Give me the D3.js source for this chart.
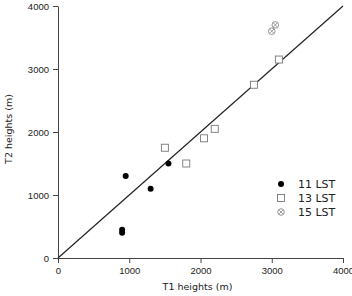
<!DOCTYPE html>
<html>
<head>
<meta charset="utf-8">
<script src="https://cdn.jsdelivr.net/npm/d3@7"></script>
<style>
  body { margin: 0; background: #fff; }
  svg { display: block; font-family: "DejaVu Sans", Verdana, sans-serif; }
  .axis path, .axis line { stroke: #444; }
  .axis text { fill: #222; font-size: 9.5px; }
</style>
</head>
<body>
<div id="chart"></div>
<script>
const margin = { top: 6, right: 9, bottom: 38, left: 58 }
const W = 352, H = 296
const w = W - margin.left - margin.right
const h = H - margin.top - margin.bottom

// tick values
const ticks = [0, 1000, 2000, 3000, 4000]

// 11 LST (filled circles)
const lst11_t1 = [950, 1300, 1550, 900, 900]
const lst11_t2 = [1300, 1100, 1500, 450, 400]
// 13 LST (open squares)
const lst13_t1 = [1500, 1800, 2050, 2200, 2750, 3100]
const lst13_t2 = [1750, 1500, 1900, 2050, 2750, 3150]
// 15 LST (circled x)
const lst15_t1 = [3000, 3050]
const lst15_t2 = [3600, 3700]

const legendLabels = ["11 LST", "13 LST", "15 LST"]

const zip = (a, b) => a.map((v, i) => [v, b[i]])

const svg = d3.select("#chart")
  .append("svg")
  .attr("width", W)
  .attr("height", H)
  .append("g")
  .attr("transform", "translate(" + margin.left + "," + margin.top + ")")

const x = d3.scaleLinear().domain([0, 4000]).range([0, w])
const y = d3.scaleLinear().domain([0, 4000]).range([h, 0])

// axes
svg.append("g")
  .attr("class", "axis")
  .attr("transform", "translate(0," + h + ")")
  .call(d3.axisBottom(x).tickValues(ticks).tickFormat(d3.format("d"))
    .tickSize(5).tickSizeOuter(0).tickPadding(4))

svg.append("g")
  .attr("class", "axis")
  .call(d3.axisLeft(y).tickValues(ticks).tickFormat(d3.format("d"))
    .tickSize(5).tickSizeOuter(0).tickPadding(4))

// axis labels
svg.append("text")
  .attr("x", x(2000) - 3)
  .attr("y", h + 32)
  .attr("text-anchor", "middle")
  .attr("font-size", 9.5)
  .attr("fill", "#222")
  .text("T1 heights (m)")

svg.append("text")
  .attr("transform", "rotate(-90)")
  .attr("x", -y(2000) + 3)
  .attr("y", -46)
  .attr("text-anchor", "middle")
  .attr("font-size", 9.5)
  .attr("fill", "#222")
  .text("T2 heights (m)")

// 1:1 line
svg.append("line")
  .attr("x1", x(0)).attr("y1", y(0))
  .attr("x2", x(4000)).attr("y2", y(4000))
  .attr("stroke", "#222")
  .attr("stroke-width", 1.2)

// markers
const drawDot = (g, cx, cy) => g.append("circle")
  .attr("cx", cx).attr("cy", cy).attr("r", 3).attr("fill", "#000")

const drawSquare = (g, cx, cy) => g.append("rect")
  .attr("x", cx - 3.5).attr("y", cy - 3.5)
  .attr("width", 7).attr("height", 7)
  .attr("fill", "#fff").attr("stroke", "#777").attr("stroke-width", 0.9)

const drawCross = (g, cx, cy) => {
  g.append("circle")
    .attr("cx", cx).attr("cy", cy).attr("r", 3.3)
    .attr("fill", "#fff").attr("stroke", "#888").attr("stroke-width", 0.9)
  const d = 2
  g.append("path")
    .attr("d", `M${cx - d},${cy - d}L${cx + d},${cy + d}M${cx - d},${cy + d}L${cx + d},${cy - d}`)
    .attr("stroke", "#888").attr("stroke-width", 0.8)
}

const pts = svg.append("g")
zip(lst13_t1, lst13_t2).forEach(d => drawSquare(pts, x(d[0]), y(d[1])))
zip(lst11_t1, lst11_t2).forEach(d => drawDot(pts, x(d[0]), y(d[1])))
zip(lst15_t1, lst15_t2).forEach(d => drawCross(pts, x(d[0]), y(d[1])))

// legend
const legend = svg.append("g")
  .attr("transform", "translate(" + (281 - margin.left) + "," + (184 - margin.top) + ")")
const drawers = [drawDot, drawSquare, drawCross]
legendLabels.forEach((lab, i) => {
  drawers[i](legend, 0, i * 14)
  legend.append("text")
    .attr("x", 17)
    .attr("y", i * 14 + 4)
    .attr("font-size", 11)
    .attr("fill", "#222")
    .text(lab)
})
</script>
</body>
</html>
